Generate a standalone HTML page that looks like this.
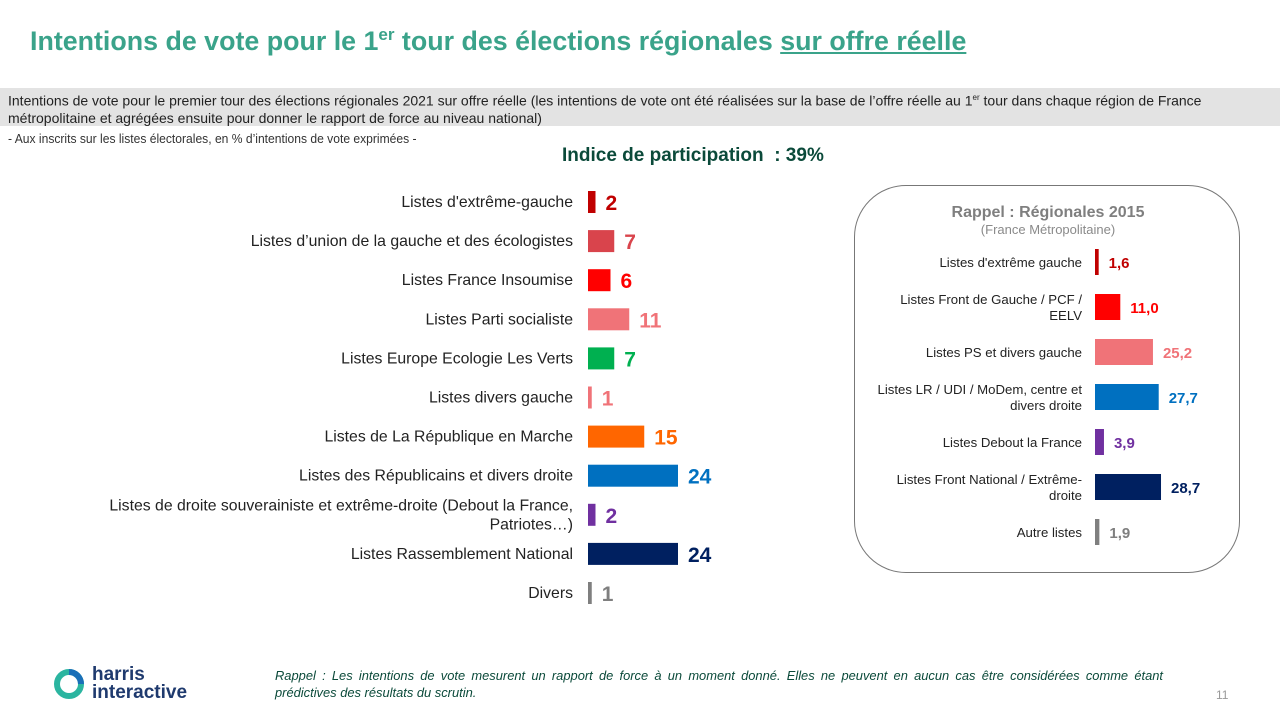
<!DOCTYPE html>
<html><head><meta charset="utf-8"><style>
body{margin:0;width:1280px;height:720px;background:#fff;font-family:"Liberation Sans",sans-serif;position:relative;overflow:hidden}
.abs{position:absolute}
</style></head><body>
<div class="abs" style="left:30px;top:25px;font-size:26.8px;font-weight:bold;color:#3aa38a;white-space:nowrap">Intentions de vote pour le 1<sup style="font-size:17px">er</sup> tour des élections régionales <u>sur offre réelle</u></div>
<div class="abs" style="left:0;top:88px;width:1280px;height:38px;background:#e3e3e3"></div>
<div class="abs" style="left:8px;top:89px;width:1264px;font-size:14px;line-height:17px;color:#222">Intentions de vote pour le premier tour des élections régionales 2021 sur offre réelle (les intentions de vote ont été réalisées sur la base de l’offre réelle au 1<sup style="font-size:8px">er</sup> tour dans chaque région de France métropolitaine et agrégées ensuite pour donner le rapport de force au niveau national)</div>
<div class="abs" style="left:8px;top:131px;font-size:13px;color:#333;transform:scaleX(0.93);transform-origin:left">- Aux inscrits sur les listes électorales, en % d’intentions de vote exprimées -</div>
<div class="abs" style="left:562px;top:145px;font-size:19px;font-weight:bold;color:#0b4a3a">Indice de participation &nbsp;: 39%</div>
<div class="abs" style="left:854px;top:185px;width:386px;height:388px;border:1px solid #777;border-radius:52px;box-sizing:border-box"></div>
<div class="abs" style="left:854px;top:204px;width:388px;text-align:center;font-size:16px;font-weight:bold;color:#7f7f7f">Rappel : Régionales 2015</div>
<div class="abs" style="left:854px;top:222px;width:388px;text-align:center;font-size:13px;color:#8a8a8a">(France Métropolitaine)</div>
<svg class="abs" style="left:0;top:0" width="1280" height="720" id="chart"></svg>
<svg class="abs" style="left:52px;top:667px" width="34" height="34"><circle cx="17" cy="17" r="12" fill="none" stroke="#2bb5a0" stroke-width="6"/><path d="M17 5 A12 12 0 0 1 29 17" fill="none" stroke="#1a6fb8" stroke-width="6"/></svg>
<div class="abs" style="left:92px;top:666px;font-size:19px;font-weight:bold;color:#1f3a6e;line-height:18px">harris<br>interactive</div>
<div class="abs" style="left:275px;top:667px;width:888px;font-size:12.9px;font-style:italic;color:#0b4a3a;line-height:17px;text-align:justify;text-align-last:left">Rappel : Les intentions de vote mesurent un rapport de force à un moment donné. Elles ne peuvent en aucun cas être considérées comme étant prédictives des résultats du scrutin.</div>
<div class="abs" style="left:1216px;top:688px;font-size:12px;color:#999">11</div>
<script>
const cats=["Listes d'extrême-gauche","Listes d’union de la gauche et des écologistes","Listes France Insoumise","Listes Parti socialiste","Listes Europe Ecologie Les Verts","Listes divers gauche","Listes de La République en Marche","Listes des Républicains et divers droite","Listes de droite souverainiste  et extrême-droite  (Debout la France,|Patriotes…)","Listes Rassemblement National","Divers"];
const vals=[2,7,6,11,7,1,15,24,2,24,1];
const cols=["#c00000","#d9444c","#ff0000","#f07378","#00b050","#f07378","#ff6600","#0070c0","#7030a0","#002060","#7f7f7f"];
const cats2=["Listes d'extrême gauche","Listes Front de Gauche / PCF /|EELV","Listes PS et divers gauche","Listes LR / UDI / MoDem, centre et|divers droite","Listes Debout la France","Listes Front National / Extrême-|droite","Autre listes"];
const vals2=[1.6,11.0,25.2,27.7,3.9,28.7,1.9];
const cols2=["#c00000","#ff0000","#f07378","#0070c0","#7030a0","#002060","#7f7f7f"];
const NS="http://www.w3.org/2000/svg",svg=document.getElementById('chart');
function mk(t,a,txt){const e=document.createElementNS(NS,t);for(const k in a)e.setAttribute(k,a[k]);if(txt!=null)e.textContent=txt;svg.appendChild(e);return e;}
function lines(e,s,x,lh){const p=s.split('|');if(p.length===1){e.textContent=s;return;}p.forEach((l,i)=>{const t=document.createElementNS(NS,'tspan');t.setAttribute('x',x);t.setAttribute('dy',i===0?-lh/2:lh);t.textContent=l;e.appendChild(t);});}
const x1=v=>588+v*3.75, y1=i=>202+i*39.1;
cats.forEach((c,i)=>{
 const y=y1(i);
 const l=mk('text',{x:573,y:y+5,'text-anchor':'end','font-size':15.8,fill:'#222','font-family':'Liberation Sans'});
 lines(l,c,573,19);
 
 
 const w=Math.max(x1(vals[i])-588,2.5);
 const r=mk('rect',{x:588,y:y-11,width:w,height:22,fill:cols[i]});
 
 
 const t=mk('text',{x:588+w+10,y:y+8,'font-size':21,'font-weight':'bold',fill:cols[i],'font-family':'Liberation Sans'},vals[i]);
 
 
});
const x2=v=>1095+v*2.3, y2=i=>262+i*45;
cats2.forEach((c,i)=>{
 const y=y2(i);
 const l=mk('text',{x:1082,y:y+5,'text-anchor':'end','font-size':13.2,fill:'#222','font-family':'Liberation Sans'});
 lines(l,c,1082,16);
 
 
 const w=Math.max(x2(vals2[i])-1095,2.5);
 const r=mk('rect',{x:1095,y:y-13,width:w,height:26,fill:cols2[i]});
 
 
 const t=mk('text',{x:1095+w+10,y:y+6,'font-size':15,'font-weight':'bold',fill:cols2[i],'font-family':'Liberation Sans'},vals2[i].toFixed(1).replace('.',','));
 
 
});
</script>
</body></html>
